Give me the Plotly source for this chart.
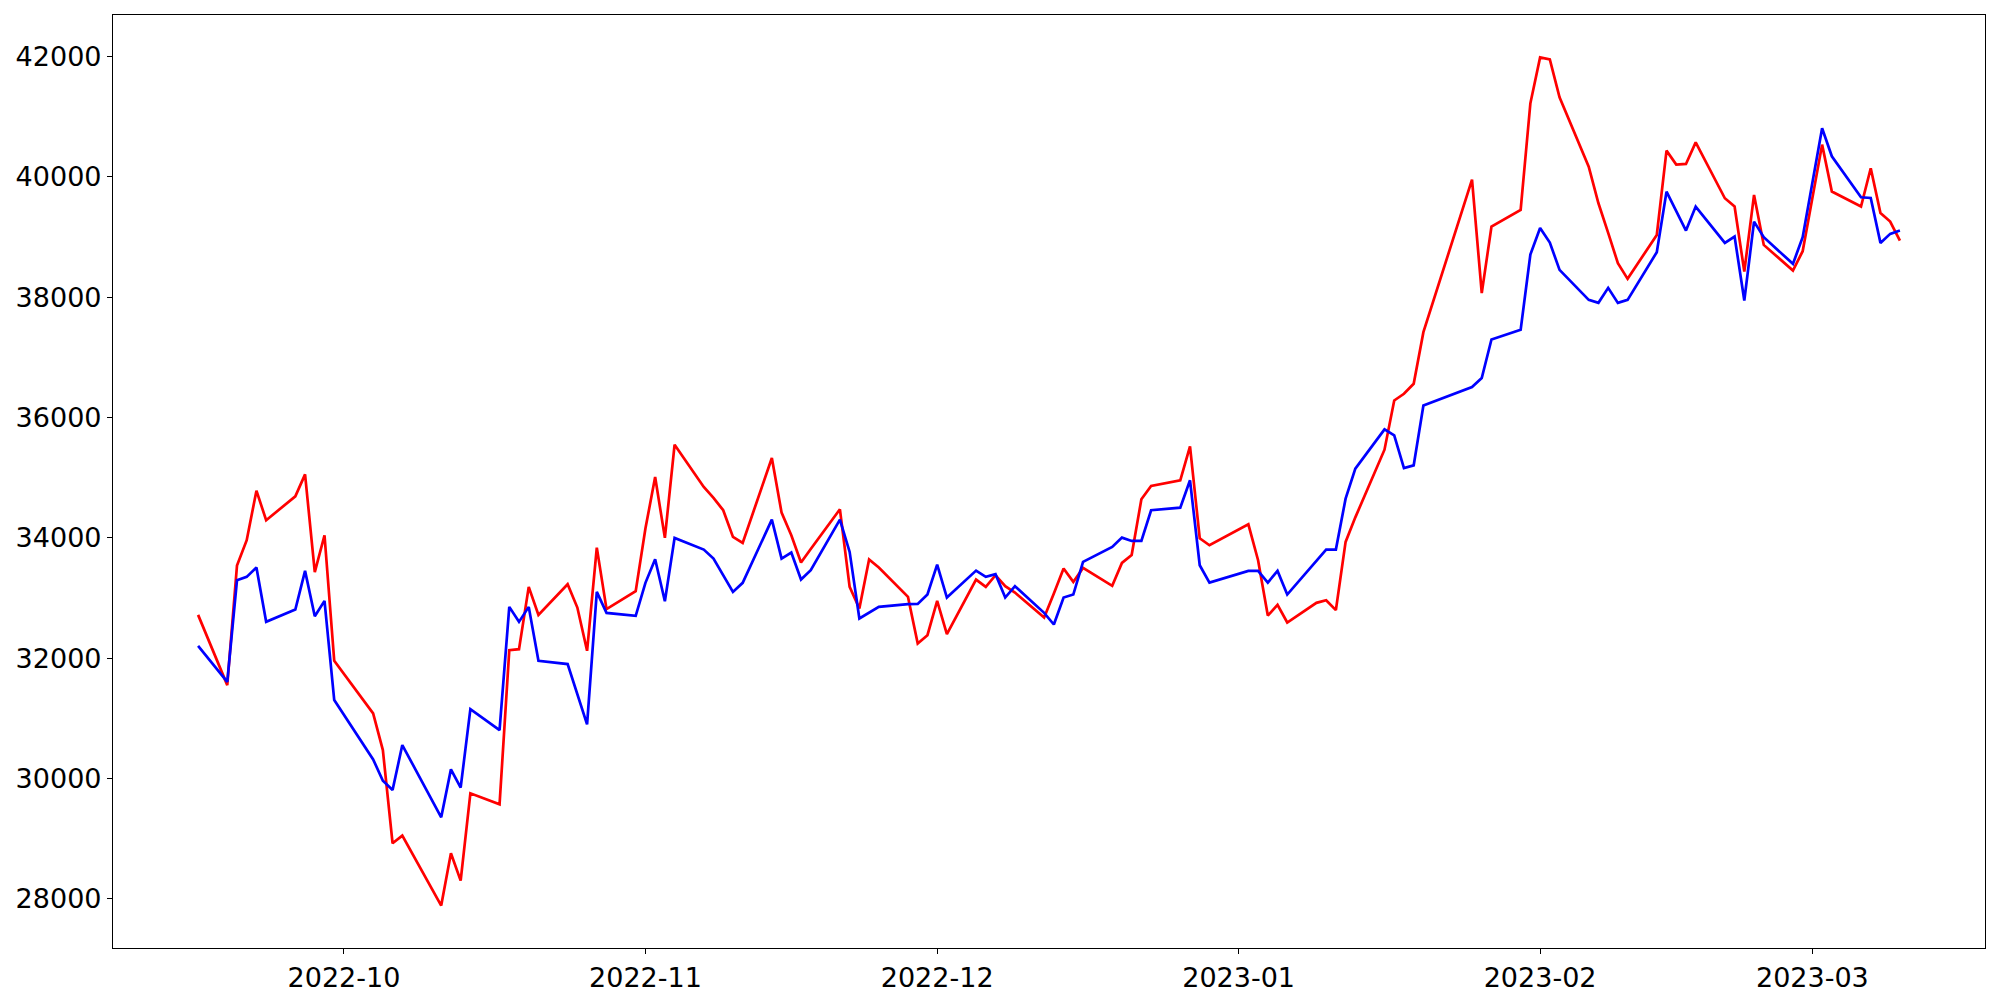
import plotly.graph_objects as go
import pandas as pd

# trading days (KRX calendar)
dates = [
    "2022-09-16", "2022-09-19", "2022-09-20", "2022-09-21", "2022-09-22", "2022-09-23",
    "2022-09-26", "2022-09-27", "2022-09-28", "2022-09-29", "2022-09-30",
    "2022-10-04", "2022-10-05", "2022-10-06", "2022-10-07",
    "2022-10-11", "2022-10-12", "2022-10-13", "2022-10-14",
    "2022-10-17", "2022-10-18", "2022-10-19", "2022-10-20", "2022-10-21",
    "2022-10-24", "2022-10-25", "2022-10-26", "2022-10-27", "2022-10-28",
    "2022-10-31", "2022-11-01", "2022-11-02", "2022-11-03", "2022-11-04",
    "2022-11-07", "2022-11-08", "2022-11-09", "2022-11-10", "2022-11-11",
    "2022-11-14", "2022-11-15", "2022-11-16", "2022-11-17", "2022-11-18",
    "2022-11-21", "2022-11-22", "2022-11-23", "2022-11-24", "2022-11-25",
    "2022-11-28", "2022-11-29", "2022-11-30", "2022-12-01", "2022-12-02",
    "2022-12-05", "2022-12-06", "2022-12-07", "2022-12-08", "2022-12-09",
    "2022-12-12", "2022-12-13", "2022-12-14", "2022-12-15", "2022-12-16",
    "2022-12-19", "2022-12-20", "2022-12-21", "2022-12-22", "2022-12-23",
    "2022-12-26", "2022-12-27", "2022-12-28", "2022-12-29",
    "2023-01-02", "2023-01-03", "2023-01-04", "2023-01-05", "2023-01-06",
    "2023-01-09", "2023-01-10", "2023-01-11", "2023-01-12", "2023-01-13",
    "2023-01-16", "2023-01-17", "2023-01-18", "2023-01-19", "2023-01-20",
    "2023-01-25", "2023-01-26", "2023-01-27",
    "2023-01-30", "2023-01-31", "2023-02-01", "2023-02-02", "2023-02-03",
    "2023-02-06", "2023-02-07", "2023-02-08", "2023-02-09", "2023-02-10",
    "2023-02-13", "2023-02-14", "2023-02-15", "2023-02-16", "2023-02-17",
    "2023-02-20", "2023-02-21", "2023-02-22", "2023-02-23", "2023-02-24",
    "2023-02-27", "2023-02-28", "2023-03-02", "2023-03-03",
    "2023-03-06", "2023-03-07", "2023-03-08", "2023-03-09", "2023-03-10",
]

red_values = [
    32720, 31553, 33539, 33960, 34784, 34292,
    34690, 35055, 33429, 34043, 31957,
    31083, 30474, 28925, 29052,
    27890, 28759, 28305, 29755,
    29572, 32134, 32150, 33185, 32720,
    33229, 32842, 32123, 33838, 32815,
    33113, 34154, 35011, 33999, 35548,
    34845, 34663, 34458, 34015, 33916,
    35326, 34419, 34043, 33589, 33816,
    34474, 33185, 32826, 33639, 33506,
    33019, 32245, 32383, 32953, 32400,
    33307, 33185, 33379, 33196, 33091,
    32676, 33075, 33490, 33268, 33501,
    33202, 33583, 33716, 34640, 34862,
    34956, 35520, 33993, 33877,
    34225, 33628, 32709, 32886, 32593,
    32920, 32964, 32798, 33932, 34340,
    35464, 36283, 36394, 36560, 37417,
    39952, 38065, 39172,
    39448, 41219, 41982, 41949, 41318,
    40167, 39559, 39066, 38563, 38303,
    39033, 40433, 40201, 40212, 40571,
    39642, 39504, 38425, 39697, 38867,
    38441, 38762, 40533, 39753,
    39504, 40140, 39398, 39254, 38939,
]

blue_values = [
    32206, 31608, 33296, 33351, 33506, 32604,
    32809, 33451, 32698, 32953, 31304,
    30319, 29965, 29810, 30557,
    29356, 30153, 29849, 31155,
    30806, 32853, 32604, 32853, 31957,
    31902, 31415, 30900, 33102, 32753,
    32704, 33252, 33644, 32947, 33999,
    33805, 33655, 33390, 33102, 33252,
    34303, 33656, 33755, 33307, 33462,
    34303, 33766, 32660, 32759, 32853,
    32898, 32903, 33058, 33556, 33008,
    33456, 33351, 33396, 33008, 33196,
    32754, 32560, 33008, 33058, 33600,
    33849, 34004, 33949, 33949, 34458,
    34502, 34956, 33545, 33257,
    33451, 33451, 33257, 33451, 33058,
    33628, 33805, 33805, 34651, 35149,
    35802, 35702, 35160, 35204, 36200,
    36505, 36654, 37296,
    37456, 38707, 39149, 38906, 38452,
    37954, 37904, 38153, 37904, 37954,
    38746, 39752, 39437, 39105, 39504,
    38900, 39006, 37943, 39254, 38994,
    38552, 38994, 40804, 40339,
    39658, 39647, 38900, 39050, 39105,
]

x = pd.to_datetime(dates)

fig = go.Figure()

fig.add_trace(go.Scatter(x=x, y=red_values, mode="lines",
                         line=dict(color="#ff0000", width=2.7), showlegend=False))
fig.add_trace(go.Scatter(x=x, y=blue_values, mode="lines",
                         line=dict(color="#0000ff", width=2.7), showlegend=False))

# matplotlib-like 5% margins
span = x.max() - x.min()
x_range = [x.min() - span * 0.05, x.max() + span * 0.05]
lo = min(min(red_values), min(blue_values))
hi = max(max(red_values), max(blue_values))
pad = (hi - lo) * 0.05

axis_style = dict(
    showline=True, linecolor="black", linewidth=1.2, mirror=True,
    showgrid=False, zeroline=False, automargin=False,
    ticks="outside", ticklen=5, tickwidth=1.1, tickcolor="black",
    tickfont=dict(family="DejaVu Sans", size=27, color="black"),
)

fig.update_xaxes(range=x_range, tickformat="%Y-%m", dtick="M1",
                 tick0="2022-10-01", **axis_style)
fig.update_yaxes(range=[lo - pad, hi + pad], dtick=2000, tick0=28000,
                 tickformat="d", **axis_style)

# page body adds an 8px offset, margins compensate for it
fig.update_layout(
    width=2000, height=1000,
    margin=dict(l=105, r=23, t=7, b=60),
    plot_bgcolor="white", paper_bgcolor="white",
)

fig.write_html("out.html")
